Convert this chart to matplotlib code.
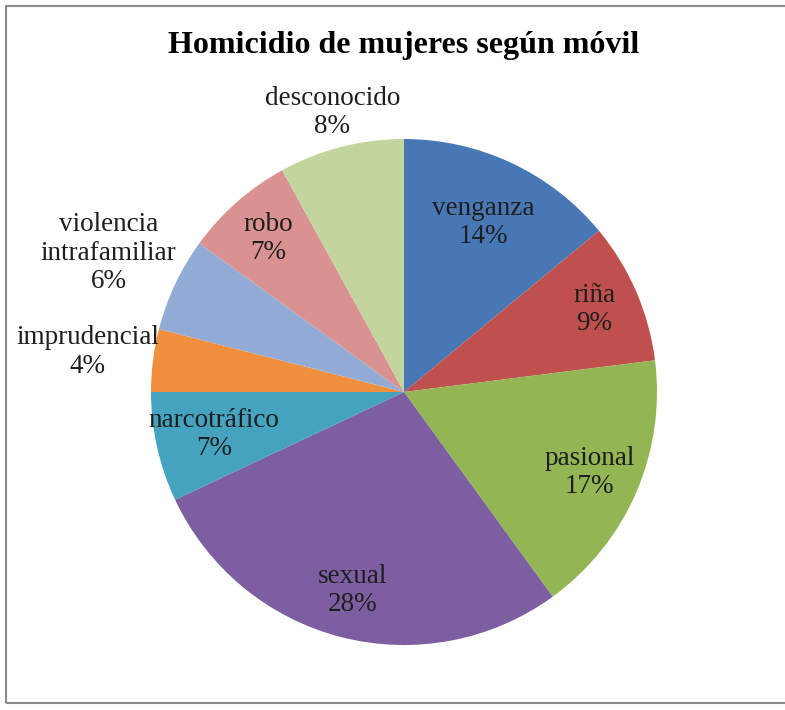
import numpy as np
import matplotlib
matplotlib.use("Agg")
import matplotlib.pyplot as plt
from matplotlib.patches import Rectangle

# Datos
moviles = ["venganza", "riña", "pasional", "sexual", "narcotráfico",
           "imprudencial", "violencia\nintrafamiliar", "robo", "desconocido"]
porcentajes = [14, 9, 17, 28, 7, 4, 6, 7, 8]
colores = ["#4877b6", "#c0504d", "#93b554", "#7c5ea1", "#45a3c0",
           "#f08f3e", "#92acd6", "#d99291", "#c1d59d"]
# distancia radial de cada etiqueta (dentro / fuera de la torta)
dist_etiq = [0.74, 0.82, 0.80, 0.81, 0.77, 1.26, 1.29, 0.81, 1.14]

plt.rcParams['font.family'] = ['Liberation Serif', 'DejaVu Serif']

fig = plt.figure(figsize=(7.85, 7.10), dpi=100)
W, H = 785, 710
cx, cy, r = 404, 392, 253
ax = fig.add_axes([(cx - r) / W, (H - cy - r) / H, 2 * r / W, 2 * r / H])

wedges, _ = ax.pie(porcentajes, colors=colores, startangle=90,
                   counterclock=False, radius=1.0,
                   wedgeprops=dict(linewidth=0))
ax.set_xlim(-1, 1)
ax.set_ylim(-1, 1)
ax.set_aspect("equal")
ax.axis("off")

for w, nombre, p, d in zip(wedges, moviles, porcentajes, dist_etiq):
    ang = np.deg2rad((w.theta1 + w.theta2) / 2)
    x, y = d * np.cos(ang), d * np.sin(ang)
    ax.text(x, y, f"{nombre}\n{p}%", ha="center", va="center",
            fontsize=19.5, color="#1e1e1e", linespacing=1.17, clip_on=False)

fig.text(cx / W, 1 - 45 / H, "Homicidio de mujeres según móvil",
         ha="center", va="center", fontsize=23, fontweight="bold")

# marco del gráfico
fig.patches.append(Rectangle((6 / W, 7 / H), 1.0, 1 - 13 / H,
                             transform=fig.transFigure, fill=False,
                             edgecolor="#8a8a8a", linewidth=1.5))

fig.savefig("out.png", dpi=100)
